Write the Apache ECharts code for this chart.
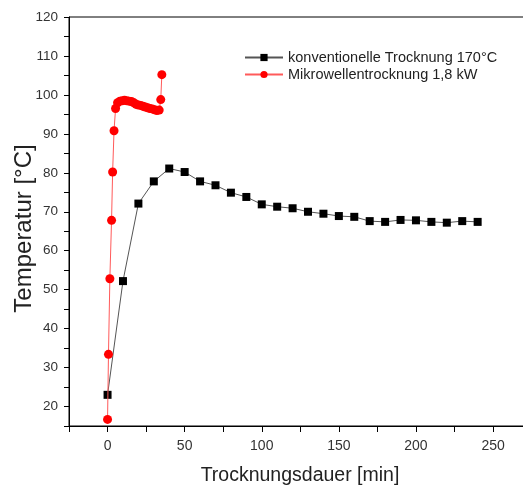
<!DOCTYPE html>
<html>
<head>
<meta charset="utf-8">
<script src="https://cdn.jsdelivr.net/npm/echarts@6/dist/echarts.min.js"></script>
<style>
  html, body { margin: 0; padding: 0; background: #fff; }
  #chart { width: 523px; height: 491px; }
</style>
</head>
<body>
<div id="chart"></div>
<script>
// Conventional drying at 170 °C: time [min] and temperature [°C]
const konvZeit = [0, 10, 20, 30, 40, 50, 60, 70, 80, 90, 100, 110, 120, 130, 140, 150, 160, 170, 180, 190, 200, 210, 220, 230, 240];
const konvTemp = [23.0, 52.2, 72.1, 77.8, 81.1, 80.2, 77.8, 76.8, 74.9, 73.8, 71.9, 71.3, 70.9, 70.0, 69.5, 68.9, 68.7, 67.6, 67.4, 67.9, 67.8, 67.4, 67.2, 67.6, 67.4];

// Microwave drying at 1.8 kW: time [min] and temperature [°C]
const mwZeit = [0, 0.6, 1.5, 2.6, 3.3, 4.2, 5.2, 6.5, 8, 9.5, 11, 12.5, 14, 15.5, 17, 18.5, 20, 21.5, 23, 24.5, 26, 27.5, 29, 30.5, 32, 33.5, 34.5, 35.2];
const mwTemp = [16.7, 33.4, 52.8, 67.8, 80.2, 90.8, 96.5, 98.0, 98.4, 98.5, 98.6, 98.5, 98.4, 98.3, 98.0, 97.6, 97.4, 97.3, 97.1, 96.9, 96.7, 96.5, 96.4, 96.2, 96.0, 96.1, 98.8, 105.2];

const serienNamen = ['konventionelle Trocknung 170°C', 'Mikrowellentrocknung 1,8 kW'];

const zip = (xs, ys) => xs.map((x, i) => [x, ys[i]]);

const chart = echarts.init(document.getElementById('chart'), null, { renderer: 'canvas' });

const font = 'Liberation Sans, Arial, sans-serif';

chart.setOption({
  animation: false,
  backgroundColor: '#fff',
  textStyle: { fontFamily: font },
  // the frame runs past the right edge of the canvas
  grid: {
    left: 69, top: 17, width: 462, height: 409,
    outerBoundsMode: 'none',
    containLabel: false,
    show: true, borderColor: '#000', borderWidth: 1, backgroundColor: 'transparent'
  },
  legend: {
    orient: 'vertical',
    left: 239, top: 45,
    itemWidth: 38, itemHeight: 9, itemGap: 2,
    textStyle: { fontSize: 14.5, color: '#222', fontFamily: font },
    data: serienNamen
  },
  xAxis: {
    type: 'value',
    min: -25, max: 274.6, interval: 25,
    name: 'Trocknungsdauer [min]',
    nameLocation: 'middle', nameGap: 40,
    nameMoveOverlap: false,
    nameTextStyle: { fontSize: 19.5, color: '#222', fontFamily: font },
    axisLine: { onZero: false, lineStyle: { color: '#000', width: 1 } },
    axisTick: { show: true, inside: false, length: 6, lineStyle: { color: '#000' } },
    axisLabel: {
      fontSize: 14, color: '#333', margin: 13,
      formatter: v => (v >= 0 && v % 50 === 0 && v <= 250) ? String(v) : ''
    },
    splitLine: { show: false }
  },
  yAxis: {
    type: 'value',
    min: 15, max: 120, interval: 5,
    name: 'Temperatur [°C]',
    nameLocation: 'middle', nameGap: 33,
    nameMoveOverlap: false,
    nameTextStyle: { fontSize: 24, color: '#222', fontFamily: font, padding: [0, 14, 0, 0] },
    axisLine: { onZero: false, lineStyle: { color: '#000', width: 1 } },
    axisTick: { show: true, inside: false, length: 5, lineStyle: { color: '#000' } },
    axisLabel: {
      fontSize: 13.5, color: '#333', margin: 11,
      formatter: v => (v % 10 === 0) ? String(v) : ''
    },
    splitLine: { show: false }
  },
  series: [
    {
      name: serienNamen[0],
      type: 'line',
      data: zip(konvZeit, konvTemp),
      symbol: 'rect', symbolSize: 8,
      itemStyle: { color: '#000' },
      lineStyle: { color: '#555', width: 1 },
      z: 3
    },
    {
      name: serienNamen[1],
      type: 'line',
      data: zip(mwZeit, mwTemp),
      symbol: 'circle', symbolSize: 9,
      itemStyle: { color: '#ff0000' },
      lineStyle: { color: '#ff5a5a', width: 1 },
      z: 4
    }
  ]
});
</script>
</body>
</html>
